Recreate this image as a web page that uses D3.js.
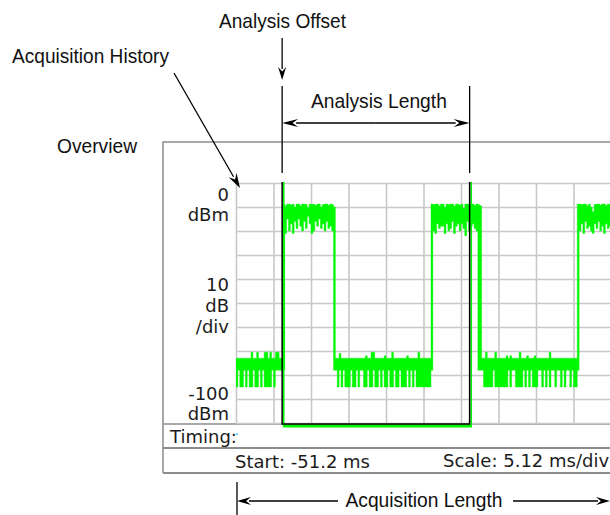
<!DOCTYPE html>
<html><head><meta charset="utf-8">
<script src="https://cdn.jsdelivr.net/npm/d3@7"></script>
<style>html,body{margin:0;padding:0;background:#fff;} svg{display:block}</style>
</head><body>
<svg id="chart" width="610" height="515"></svg>
<script>
// ---------------- data ----------------
const acquisitionStartMs = -51.2;
const timeScaleMsPerDiv = 5.12;
const timeDivisions = 10;
const refLevelDbm = 0;
const dbPerDiv = 10;
const levelDivisions = 10;
const sampleMs = 0.256;
const analysisOffsetMs = -44.9;
const analysisLengthMs = 25.6;

const topLevelLabel = ["0", "dBm"];
const scaleLabel = ["10", "dB", "/div"];
const bottomLevelLabel = ["-100", "dBm"];
const timingLabel = "Timing:";
const startLabel = "Start: -51.2 ms";
const scaleText = "Scale: 5.12 ms/div";
const annotationTexts = {
  offset: "Analysis Offset", history: "Acquisition History", length: "Analysis Length",
  overview: "Overview", acquisition: "Acquisition Length"
};

// peak (max) and trough (min) of the trace per 0.256 ms sample, dBm
const traceMaxDbm = [
  -73,-73,-73,-73,-73,-73,-73,-73,-70.5,-73,-73,-70.5,-73,-73,-73,-70.5,-70.5,-73,-70.5,-73,-73,-70.5,-70.5,-73,-73,
  -8.8,
  -9.5,-8.8,-8.8,-9.2,-8.8,-10,-8.8,-8.8,-9.5,-8.8,-8.8,-9,-10.2,-8.8,-9,-8.8,-9.4,-8.8,-8.8,-10,-9,-8.8,-8.8,-9.3,-8.8,-9,
  -10,
  -73,-73,-71,-73,-73,-73,-73,-73,-73,-73,
  -73,-73,-73,-73,-73,-73,-72,-73,-73,-70.5,
  -70.5,-73,-73,-73,-73,-73,-72,-73,-73,-73,
  -70.5,-73,-73,-73,-73,-73,-73,-73,-72,-73,
  -73,-73,-73,-73,-70.5,-73,-73,-73,-73,-73,-73,
  -8.8,
  -9,-8.8,-8.8,-9.5,-8.8,-8.8,-10,-8.8,-9,-8.8,-8.8,-9.6,-8.8,-8.8,-9.2,-8.8,-10.5,-8.8,-8.8,-9,-8.8,-8.8,-9.4,-8.8,-9,
  -9.5,
  -73,-73,-70.5,-73,-73,-73,-73,-70.5,-73,-73,
  -73,-73,-73,-72,-73,-72,-73,-73,-73,-73,
  -70.5,-73,-73,-73,-72,-73,-73,-73,-72,-73,
  -73,-73,-73,-73,-73,-73,-70.5,-73,-73,-73,
  -73,-73,-73,-73,-73,-73,-73,-73,-73,-73,-73,
  -8.8,
  -8.8,-9,-8.8,-8.8,-9.5,-8.8,-10,-12,-9,-8.8,-8.8,-9.2,-8.8,-8.8,-9.4,-8.8,-9
];
const traceMinDbm = [
  -85,-78,-85,-85,-78,-85,-78,-85,-85,-78,-85,-85,-78,-85,-78,-85,-85,-85,-85,-78,-85,-78,-78,-78,-78,
  -78,
  -21,-15,-20,-17,-21,-16,-19,-15,-18,-20,-16,-19,-14,-17,-21,-20,-16,-18,-15,-19,-17,-20,-16,-19,-18,-20,
  -78,
  -78,-85,-78,-85,-78,-85,-85,-85,-78,-85,
  -85,-78,-85,-78,-78,-85,-85,-78,-85,-85,
  -78,-85,-85,-78,-85,-78,-85,-85,-78,-85,
  -85,-78,-85,-85,-78,-85,-85,-85,-78,-85,
  -78,-85,-78,-85,-85,-85,-85,-85,-85,-85,-85,
  -78,
  -20,-21,-17,-19,-18,-18,-21,-17,-20,-19,-16,-21,-18,-17,-20,-17,-19,-22,-16,-20,-18,-17,-19,-20,-78,
  -78,
  -78,-85,-85,-85,-85,-85,-78,-85,-85,-85,
  -85,-85,-85,-85,-78,-85,-78,-78,-85,-85,
  -85,-85,-78,-85,-78,-85,-78,-85,-85,-85,
  -78,-78,-85,-78,-85,-78,-85,-78,-78,-85,
  -78,-78,-85,-78,-85,-78,-78,-85,-78,-85,-85,
  -78,
  -20,-17,-21,-16,-19,-18,-20,-21,-17,-19,-16,-20,-18,-21,-17,-19,-18
];

// ---------------- layout ----------------
const svg = d3.select("#chart");
const P = {left: 236, right: 611, top: 183, bottom: 423};
const box = {left: 163, top: 142, right: 640, bottom: 473, row1: 448};
const instFont = "'DejaVu Sans', Verdana, sans-serif";
const annFont = "'Liberation Sans', Arial, Helvetica, sans-serif";
const green = "#00f800";
const gridColor = "#c8c8c8";
const boxColor = "#8c8c8c";

const acqEndMs = acquisitionStartMs + timeScaleMsPerDiv * timeDivisions;
const x = d3.scaleLinear().domain([acquisitionStartMs, acqEndMs]).range([P.left, P.right]);
const y = d3.scaleLinear().domain([refLevelDbm - dbPerDiv * levelDivisions, refLevelDbm]).range([P.bottom, P.top]);

// outer instrument box
const boxG = svg.append("g").attr("fill", "none").attr("stroke", boxColor);
boxG.append("path").attr("stroke-width", 1.5)
  .attr("d", `M${box.right},${box.top}H${box.left}V${box.bottom}`);
boxG.append("path").attr("stroke-width", 1.5)
  .attr("d", `M${box.left},${P.bottom + 1}H${box.right}`);
boxG.append("path").attr("stroke-width", 2)
  .attr("d", `M${box.left},${box.row1}H${box.right}M${box.left},${box.bottom}H${box.right}`);

// grid through axes
const xTicks = d3.range(timeDivisions + 1).map(k => acquisitionStartMs + k * timeScaleMsPerDiv);
const yTicks = d3.range(levelDivisions + 1).map(k => refLevelDbm - k * dbPerDiv);
const gridX = svg.append("g").attr("transform", `translate(0,${P.bottom})`)
  .call(d3.axisBottom(x).tickValues(xTicks).tickSize(-(P.bottom - P.top)).tickFormat(""));
const gridY = svg.append("g").attr("transform", `translate(${P.left},0)`)
  .call(d3.axisLeft(y).tickValues(yTicks).tickSize(-(P.right - P.left)).tickFormat(""));
[gridX, gridY].forEach(g => {
  g.select(".domain").remove();
  g.selectAll(".tick line").attr("stroke", gridColor).attr("stroke-width", 1.6);
});

// trace
const samples = traceMaxDbm.map((v, i) => ({t: acquisitionStartMs + i * sampleMs, hi: v, lo: traceMinDbm[i]}));
samples.push({t: acqEndMs, hi: traceMaxDbm[traceMaxDbm.length - 1], lo: traceMinDbm[traceMinDbm.length - 1]});
svg.append("defs").append("clipPath").attr("id", "plotClip")
  .append("rect").attr("x", P.left).attr("y", P.top - 2).attr("width", P.right - P.left).attr("height", P.bottom - P.top + 4);
svg.append("path").datum(samples)
  .attr("clip-path", "url(#plotClip)")
  .attr("fill", green).attr("stroke", green).attr("stroke-width", 0.4)
  .attr("d", d3.area().curve(d3.curveStepAfter).x(d => x(d.t)).y0(d => y(d.lo)).y1(d => y(d.hi)));

// analysis window markers
const xo = x(analysisOffsetMs), xe = x(analysisOffsetMs + analysisLengthMs);
svg.append("path").attr("fill", "none").attr("stroke", green).attr("stroke-width", 1.6)
  .attr("d", `M${xo + 1.6},${P.top - 1}V${P.bottom + 3}M${xe + 1.6},${P.top - 1}V${P.bottom + 3}`);
svg.append("path").attr("fill", "none").attr("stroke", green).attr("stroke-width", 3)
  .attr("d", `M${xo + 0.8},${P.bottom + 3}H${xe + 2.4}`);
svg.append("path").attr("fill", "none").attr("stroke", "#000").attr("stroke-width", 1.5)
  .attr("d", `M${xo},${P.top - 1}V${P.bottom + 1}H${xe}V${P.top - 1}`);

// instrument text
const inst = svg.append("g").attr("font-family", instFont).attr("font-size", 18).attr("fill", "#1c1c1c");
const labX = P.left - 7;
topLevelLabel.forEach((s, k) => inst.append("text").attr("x", labX).attr("y", y(refLevelDbm) + 18 + k * 20).attr("text-anchor", "end").text(s));
scaleLabel.forEach((s, k) => inst.append("text").attr("x", labX).attr("y", y(-45) + k * 21).attr("text-anchor", "end").text(s));
bottomLevelLabel.forEach((s, k) => inst.append("text").attr("x", labX).attr("y", y(-100) - 23 + k * 20).attr("text-anchor", "end").text(s));
inst.append("text").attr("x", box.left + 7).attr("y", 443).text(timingLabel);
svg.append("rect").attr("x", P.left).attr("y", 433.5).attr("width", 2).attr("height", 1.2).attr("fill", "#00c8ff");
inst.append("text").attr("x", x(acquisitionStartMs) - 1).attr("y", 468).text(startLabel);
inst.append("text").attr("x", 443).attr("y", 467).text(scaleText);

// annotations
const ann = svg.append("g").attr("font-family", annFont).attr("font-size", 21).attr("fill", "#111");
function annText(s, x0, yb, len) {
  ann.append("text").attr("x", x0).attr("y", yb).attr("textLength", len)
    .attr("lengthAdjust", "spacingAndGlyphs").text(s);
}
function arrow(x1, y1, x2, y2, len = 14, hw = 4) {
  const a = Math.atan2(y2 - y1, x2 - x1);
  const bx = x2 - len * Math.cos(a), by = y2 - len * Math.sin(a);
  const px = -Math.sin(a) * hw, py = Math.cos(a) * hw;
  svg.append("line").attr("x1", x1).attr("y1", y1).attr("x2", bx + 2 * Math.cos(a)).attr("y2", by + 2 * Math.sin(a))
    .attr("stroke", "#000").attr("stroke-width", 1.3);
  svg.append("path").attr("fill", "#000")
    .attr("d", `M${x2},${y2}L${bx + px},${by + py}L${bx + 0.35 * len * Math.cos(a)},${by + 0.35 * len * Math.sin(a)}L${bx - px},${by - py}Z`);
}
annText(annotationTexts.offset, 219, 28, 127);
arrow(xo, 38, xo, 80, 13, 4);

annText(annotationTexts.history, 12, 63, 157);
arrow(174, 73, 240, 188, 15, 4.5);

annText(annotationTexts.overview, 57, 153, 80);

svg.append("path").attr("stroke", "#000").attr("stroke-width", 1.3).attr("fill", "none")
  .attr("d", `M${xo},86V173M${xe},86V173`);
annText(annotationTexts.length, (xo + xe) / 2 - 65, 108, 136);
arrow((xo + xe) / 2, 123, xo, 123, 16, 4);
arrow((xo + xe) / 2, 123, xe, 123, 16, 4);

const xs = x(acquisitionStartMs) + 1;
svg.append("line").attr("x1", xs).attr("x2", xs).attr("y1", 482).attr("y2", 515).attr("stroke", "#000").attr("stroke-width", 1.3);
annText(annotationTexts.acquisition, x((acquisitionStartMs + acqEndMs) / 2) - 78, 507, 157);
arrow(338, 501, xs, 501, 14, 4);
arrow(513, 501, 610, 501, 14, 4);
</script>
</body></html>
